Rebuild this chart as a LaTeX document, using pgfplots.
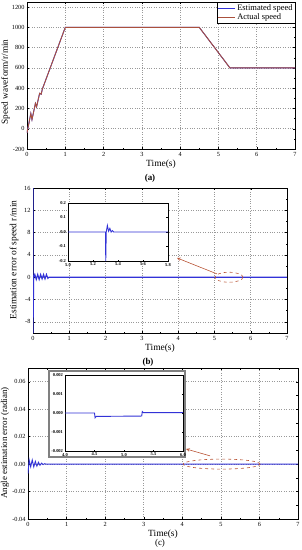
\documentclass[border=0pt]{standalone}
\usepackage{pgfplots}
\pgfplotsset{compat=1.18}
\usepackage{fontspec}
\setmainfont{Liberation Serif}
\definecolor{estblue}{RGB}{50,50,215}
\definecolor{actbrown}{RGB}{170,80,60}
\definecolor{arrowred}{RGB}{185,85,55}
\pgfplotsset{
  mainax/.style={scale only axis, anchor=south west,
    axis line style={line width=0.6pt}, tick style={black, line width=0.4pt},
    grid=major, major grid style={dotted, gray!80, line width=0.5pt},
    xmin=0, xmax=7, xtick={0,...,7}, minor x tick num=1, minor y tick num=1,
    tick label style={font=\fontsize{6.3}{7}\selectfont},
    yticklabel style={xshift=1pt},
    label style={font=\fontsize{9.5}{10}\selectfont},
    /pgf/number format/assume math mode=true,
    /pgf/number format/1000 sep={},
    xlabel={Time(s)}, tick align=inside,
    major tick length=2.5pt, minor tick length=1.5pt,
    xlabel style={yshift=4pt}},
  insetax/.style={scale only axis, anchor=south west,
    axis background/.style={fill=white},
    axis line style={line width=0.5pt}, tick style={black, line width=0.3pt},
    tick label style={font=\fontsize{4.5}{5}\selectfont\bfseries},
    /pgf/number format/assume math mode=true,
    major tick length=1.5pt, tick align=inside,
    xticklabel style={yshift=1.5pt}, yticklabel style={xshift=1.5pt}}
}
\begin{document}
\begin{tikzpicture}
\useasboundingbox (0,0) rectangle (302bp,-550bp);
% ---------- (a)
\begin{axis}[mainax, at={(27bp,-149bp)}, width=268bp, height=147bp,
  ymin=-200, ymax=1250, ytick={-200,0,...,1200},
  legend style={at={(1,1)}, anchor=north east, font=\fontsize{8.5}{9}\selectfont,
    draw=black, line width=0.4pt, inner sep=0.5pt, row sep=-2.5pt, outer sep=0pt},
  legend cell align=left]
\addplot[estblue, line width=0.9pt] coordinates {(0,-40)(0.1,150)(0.13,90)(0.22,250)(0.25,215)(0.33,350)(0.37,340)(0.4,390)(1,1000)(4.5,1000)(5.3,600)(7,600)};
\addlegendentry{Estimated speed}
\addplot[actbrown, line width=0.9pt] coordinates {(0,-40)(0.1,150)(0.13,90)(0.22,250)(0.25,215)(0.33,350)(0.37,340)(0.4,390)(1,1000)(4.5,1000)(5.3,600)(7,600)};
\addlegendentry{Actual speed}
\end{axis}
\node[rotate=90, font=\fontsize{9.3}{10}\selectfont] at (5.5bp,-82bp) {Speed waveform/r/min};
\node[font=\bfseries\fontsize{9}{10}\selectfont] at (150bp,-178bp) {(a)};
% ---------- (b)
\begin{axis}[mainax, at={(33bp,-333bp)}, width=254bp, height=145bp,
  ymin=-10, ymax=16, ytick={-8,-4,0,4,8,12,16}]
\addplot[estblue, line width=1.1pt] coordinates {(0,16)(0,-10)(0.02,0)(0.05,0.5)(0.09,-0.4)(0.13,0.5)(0.17,-0.4)(0.21,0.5)(0.25,-0.3)(0.29,0.5)(0.33,-0.3)(0.37,0.5)(0.41,-0.2)(0.44,0)(7,0)};
\draw[dashed, arrowred, line width=0.6pt] (axis cs:5.4,0) ellipse [x radius=14bp, y radius=5bp];
\draw[arrowred, line width=0.6pt, -stealth] (axis cs:5.07,0.6) -- (axis cs:3.97,3.45);
\end{axis}
\node[rotate=90, font=\fontsize{9.5}{10}\selectfont] at (14bp,-260bp) {Estimation error of speed r/min};
\begin{axis}[insetax, at={(68bp,-261bp)}, width=100bp, height=58bp,
  xmin=5.0, xmax=5.8, ymin=-0.2, ymax=0.2,
  xtick={5.0,5.2,5.4,5.6,5.8}, ytick={-0.2,-0.1,0,0.1,0.2},
  xticklabel style={/pgf/number format/fixed, /pgf/number format/fixed zerofill, /pgf/number format/precision=1},
  yticklabel style={/pgf/number format/fixed, /pgf/number format/fixed zerofill, /pgf/number format/precision=1}]
\addplot[estblue, line width=0.9pt] coordinates {(5.0,0)(5.3,0)(5.302,-0.2)(5.306,0)(5.315,0.045)(5.325,0.005)(5.335,0.025)(5.345,0.0)(5.355,0.01)(5.365,0)(5.8,0)};
\end{axis}
\node[font=\bfseries\fontsize{9}{10}\selectfont] at (148bp,-362bp) {(b)};
% ---------- (c)
\begin{axis}[mainax, at={(28bp,-519bp)}, width=270bp, height=151bp,
  ymin=-0.04, ymax=0.07, ytick={-0.04,-0.02,0,0.02,0.04,0.06},
  yticklabel style={/pgf/number format/fixed, /pgf/number format/fixed zerofill, /pgf/number format/precision=2},
  scaled y ticks=false]
\addplot[estblue, line width=0.9pt] coordinates {(0,-0.007)(0.03,0.003)(0.07,-0.002)(0.11,0.003)(0.15,-0.002)(0.19,0.002)(0.23,-0.0015)(0.27,0.0013)(0.31,-0.0009)(0.35,0.0007)(0.39,-0.0004)(0.43,0.0003)(0.47,0)(7,0)};
\draw[dashed, arrowred, line width=0.6pt] (axis cs:5.02,0) ellipse [x radius=38.5bp, y radius=5bp];
\draw[arrowred, line width=0.6pt, -stealth] (axis cs:4.72,0.006) -- (axis cs:4.1,0.011);
\end{axis}
\node[rotate=90, font=\fontsize{9}{10}\selectfont] at (5bp,-443bp) {Angle estimation error (radian)};
\draw[gray, line width=1.2pt, fill=white] (49bp,-371bp) rectangle (185bp,-457bp);
\begin{axis}[insetax, at={(65bp,-451bp)}, width=118bp, height=76bp,
  xmin=4.0, xmax=6.0, ymin=-0.002, ymax=0.002,
  xtick={4.0,4.5,5.0,5.5,6.0}, ytick={-0.002,-0.001,0,0.001,0.002},
  xticklabel style={/pgf/number format/fixed, /pgf/number format/fixed zerofill, /pgf/number format/precision=1},
  yticklabel style={/pgf/number format/fixed, /pgf/number format/fixed zerofill, /pgf/number format/precision=3},
  scaled y ticks=false]
\addplot[estblue, line width=0.9pt] coordinates {(4.0,0)(4.5,0)(4.51,-0.00025)(4.53,-0.00018)(5.3,-0.00016)(5.31,0.00008)(5.33,0.00002)(6.0,0.00002)};
\end{axis}
\node[font=\fontsize{9}{10}\selectfont] at (160bp,-543bp) {(c)};
\end{tikzpicture}
\end{document}
